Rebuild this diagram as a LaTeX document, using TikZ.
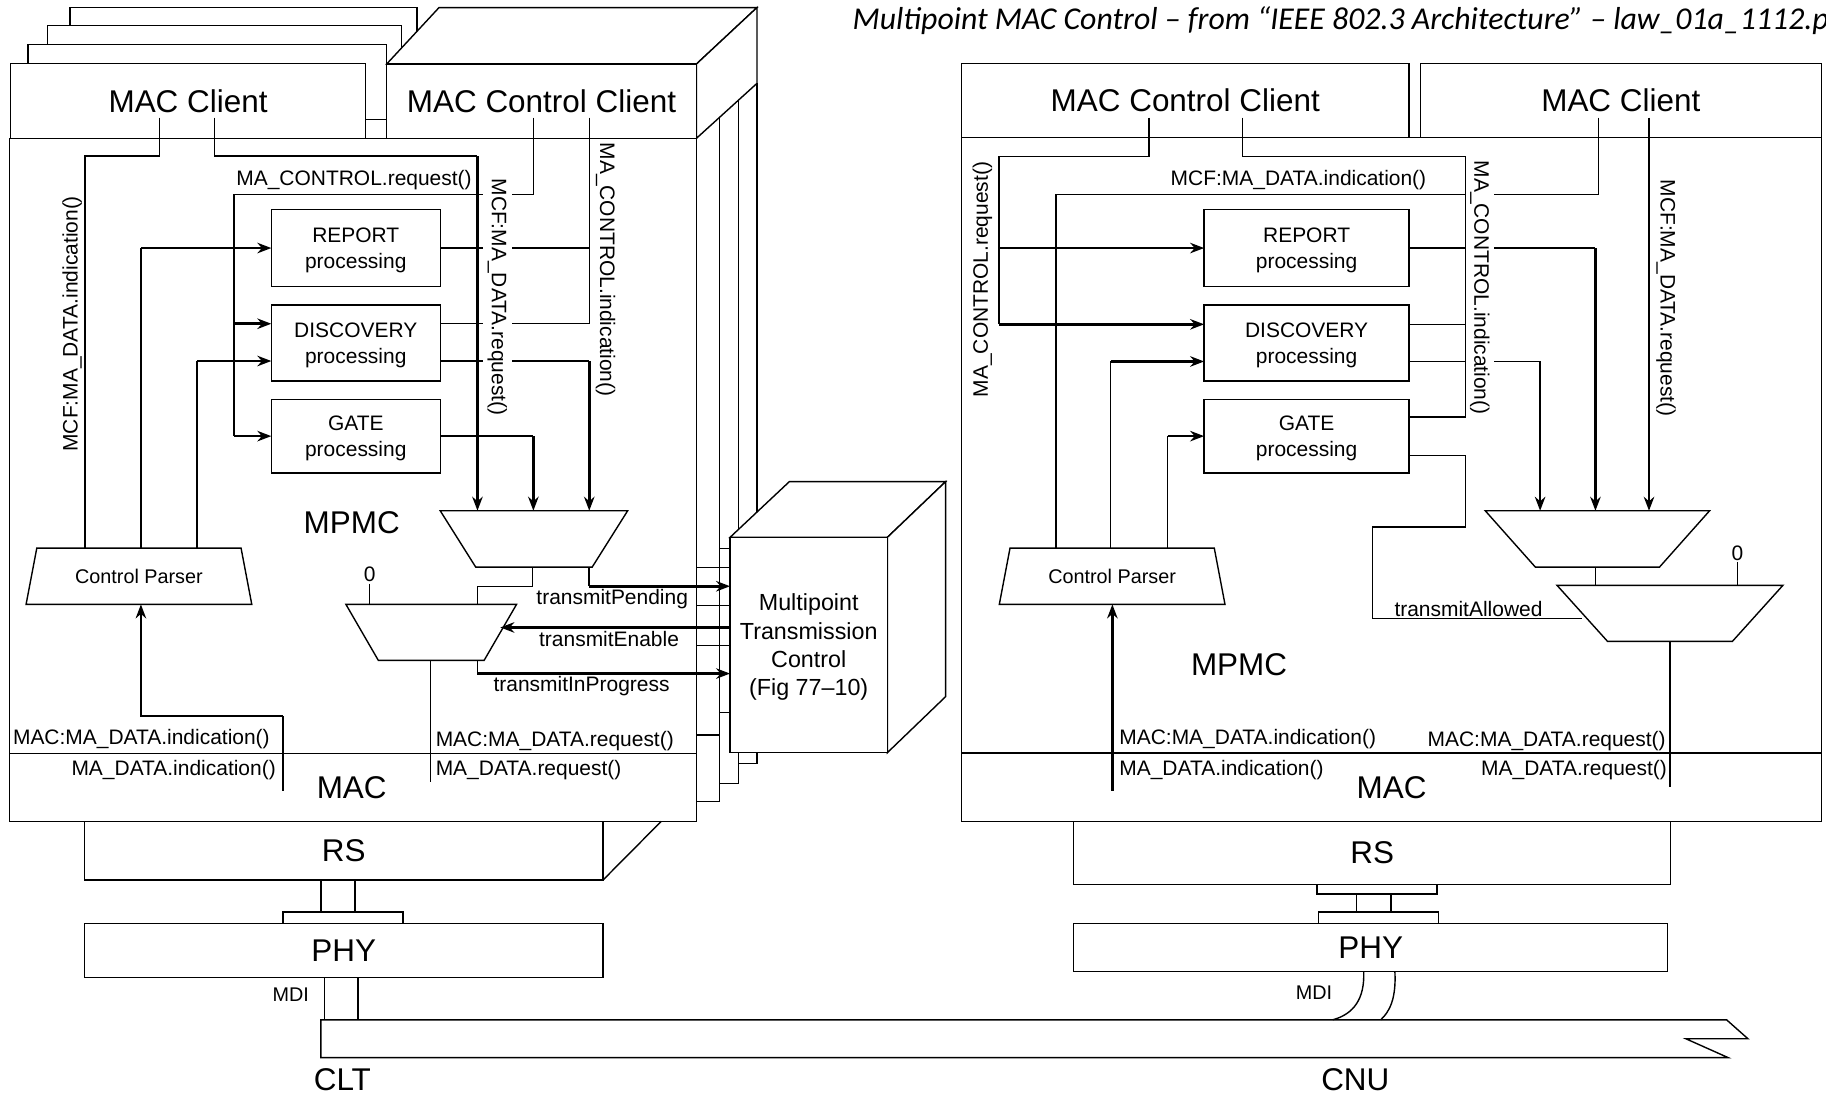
\documentclass[tikz,border=0pt]{standalone}
\usepackage{fontspec}
\setmainfont{Liberation Sans}
\newfontfamily\capfont{Carlito}
\usetikzlibrary{positioning}
\usetikzlibrary{arrows.meta}
\usetikzlibrary{shapes.geometric}
\usetikzlibrary{fit}
\tikzset{
  box/.style={draw=black, fill=white, line width=1.2pt, inner sep=0pt, outer sep=0pt},
  big/.style={font=\fontsize{27}{30}\selectfont},
  lbl/.style={font=\fontsize{18}{20}\selectfont, inner sep=1pt},
  proc/.style={align=center, font=\fontsize{18}{22}\selectfont},
  wire/.style={line width=1.2pt},
  sig/.style={line width=2.2pt, -{Stealth[length=12pt, width=9pt]}},
  mux/.style={draw=black, fill=white, line width=1.2pt, trapezium, trapezium stretches=true, inner sep=1pt, outer sep=0pt},
  parser/.style={mux, trapezium angle=68, minimum width=194pt, minimum height=48.3pt, font=\fontsize{17}{20}\selectfont},
}

\begin{document}
\begin{tikzpicture}[x=1pt, y=-1pt]
    \useasboundingbox (0,0) rectangle (1568,939.4);

    \node[anchor=west, inner sep=0pt, font=\capfont\itshape\fontsize{27.3}{30}\selectfont] (caption) at (732,18) {Multipoint MAC Control – from “IEEE 802.3 Architecture” – law\_01a\_1112.p};

    % CLT: stacked clients
    \node[box, fit={(60,6.3) (358,71)}] (cb_1) {};
    \node[box, fit={(41,22) (345,87)}] (cb_2) {};
    \node[box, fit={(24,38) (332,102.7)}] (cb_3) {};
    \node[box, fit={(9,54.5) (314,118.8)}] (macc_L) {};
    \node[big] at (macc_L) {MAC Client};

    \draw[wire] (617.7,100.7) -- (617.7,688.4) -- (598,688.4);
    \draw[wire] (634,85.9) -- (634,672.6) -- (617.7,672.6);
    \draw[wire] (650,71.6) -- (650,655.5) -- (634,655.5);
    \draw[box] (332,55) -- (377,6.5) -- (650,6.5) -- (598,55) -- cycle;
    \draw[box] (598,55) -- (650,6.5) -- (650,71.6) -- (598,118.8) -- cycle;
    \node[box, fit={(332,55) (598,118.8)}] (mcc_L) {};
    \node[big] at (mcc_L) {MAC Control Client};

    \node[box, fit={(8,118.8) (598,705.3)}] (mpmc_L) {};
    \draw[wire] (mpmc_L.west |- 0,647) -- (mpmc_L.east |- 0,647);

    \draw[wire] (617.7,470.9) -- (626.9,470.9);
    \draw[wire] (598,487.2) -- (626.9,487.2);
    \draw[wire] (598,520.1) -- (626.9,520.1);
    \draw[wire] (598,554.4) -- (626.9,554.4);
    \draw[wire] (617.7,612) -- (626.9,612);
    \draw[wire] (598,631) -- (617.7,631);

    \draw[box] (626.9,461.4) -- (677.8,413.6) -- (812,413.6) -- (762,461.4) -- cycle;
    \draw[box] (762,461.4) -- (812,413.6) -- (812,598.2) -- (762,646.3) -- cycle;
    \node[box, fit={(626.9,461.4) (762,646.3)}] (mtc) {};
    \node[align=center, font=\fontsize{20}{24.4}\selectfont] at ([yshift=-2pt]mtc.center) {Multipoint\\Transmission\\Control\\(Fig 77–10)};

    \node[box, fit={(233,180) (378,246)}] (rep_L) {};
    \node[box, fit={(233,262) (378,327)}] (dis_L) {};
    \node[box, fit={(233,343) (378,406)}] (gate_L) {};
    \node[proc] at ([yshift=-2pt]rep_L.center) {REPORT\\processing};
    \node[proc] at ([yshift=-2pt]dis_L.center) {DISCOVERY\\processing};
    \node[proc] at ([yshift=-2pt]gate_L.center) {GATE\\processing};

    \node[mux, shape border rotate=180, trapezium angle=73, minimum width=161pt, minimum height=48.5pt] (muxa_L) at (458.5,462.8) {};
    \node[mux, shape border rotate=180, trapezium angle=73, minimum width=146.5pt, minimum height=48pt] (muxb_L) at (370.3,543) {};
    \node[parser] (cp_L) at (119.3,494.85) {Control Parser};

    \coordinate (ind_L) at (137,101);
    \coordinate (req_L) at (184,101);
    \coordinate (creq_L) at (458,101);
    \coordinate (cind_L) at (506,101);

    % CLT wiring
    \draw[wire] (ind_L) |- (73,134) -- (73,0 |- cp_L.north);
    \draw[wire] (req_L) |- (410,134);
    \draw[sig] (410,134) -- (410,0 |- muxa_L.north);
    \draw[wire] (creq_L) |- (201,167) -- (201,0 |- gate_L.west);
    \draw[sig] (201,278) -- (dis_L.west |- 0,278);
    \draw[sig] (201,0 |- gate_L.west) -- (gate_L.west);
    \draw[wire] (121,0 |- cp_L.north) -- (121,0 |- rep_L.west);
    \draw[sig] (121,0 |- rep_L.west) -- (rep_L.west);
    \draw[wire] (169,0 |- cp_L.north) -- (169,310);
    \draw[sig] (169,310) -- (dis_L.west |- 0,310);
    \draw[wire] (cind_L) -- (506,278);
    \draw[wire] (rep_L.east) -- (506,0 |- rep_L.east);
    \draw[wire] (dis_L.east |- 0,278) -- (506,278);
    \draw[wire] (dis_L.east |- 0,310) -- (506,310);
    \draw[sig] (506,310) -- (506,0 |- muxa_L.north);
    \draw[wire] (gate_L.east) -- (458,0 |- gate_L.east);
    \draw[sig] (458,0 |- gate_L.east) -- (458,0 |- muxa_L.north);

    \node[lbl] at (304,155) {MA\_CONTROL.request()};
    \node[lbl, rotate=-90, fill=white, inner sep=4pt] at (427,255) {MCF:MA\_DATA.request()};
    \node[lbl, rotate=-90] at (520,231.5) {MA\_CONTROL.indication()};
    \node[lbl, rotate=90] at (62,278) {MCF:MA\_DATA.indication()};

    \draw[wire] (457,0 |- muxa_L.south) |- (410,503.6) -- (410,0 |- muxb_L.north);
    \draw[wire] (505.7,0 |- muxa_L.south) -- (505.7,503.4);
    \draw[sig] (505.7,503.4) -- (mtc.west |- 0,503.4);
    \node[lbl] at (525.7,514.6) {transmitPending};
    \draw[sig] (mtc.west |- 0,538.8) -- (muxb_L.east |- 0,538.8);
    \node[lbl] at (523,549) {transmitEnable};
    \draw[wire] (410,0 |- muxb_L.south) -- (410,578.4);
    \draw[sig] (410,578.4) -- (mtc.west |- 0,578.4);
    \node[lbl] at (499.4,588.8) {transmitInProgress};
    \node[lbl] (zero_L) at (317.5,493.5) {0};
    \draw[wire] (zero_L.south) -- (317.5,0 |- muxb_L.north);

    \draw[wire] (369.6,0 |- muxb_L.south) -- (369.6,671.7);
    \node[lbl, anchor=west] at (373,636) {MAC:MA\_DATA.request()};
    \node[lbl, anchor=west] at (373,661) {MA\_DATA.request()};
    \draw[wire] (242.9,679) -- (242.9,614.8);
    \draw[sig] (242.9,614.8) -| (121,0 |- cp_L.south);
    \node[lbl, anchor=west] at (10,635) {MAC:MA\_DATA.indication()};
    \node[lbl, anchor=east] at (238,661.6) {MA\_DATA.indication()};
    \node[big] at (302,449) {MPMC};
    \node[big] at (302,676.6) {MAC};

    % CLT: RS, PHY
    \node[box, fit={(72.5,705.3) (517.8,755.7)}] (rs_L) {};
    \node[big] at (rs_L) {RS};
    \draw[wire] (rs_L.south east) -- (567.8,705.3);
    \node[box, fit={(243,783.3) (346,793)}] (plug_L) {};
    \draw[wire] (275.5,0 |- rs_L.south) -- (275.5,0 |- plug_L.north);
    \draw[wire] (305,0 |- rs_L.south) -- (305,0 |- plug_L.north);
    \node[box, fit={(72.5,793) (517.8,839.3)}] (phy_L) {};
    \node[big] at (phy_L) {PHY};

    % cable
    \draw[box] (275.5,875.7) coordinate (cable) -- (1482.6,875.7) -- (1501,892) -- (1447.7,892) -- (1484,908.2) -- (275.5,908.2) -- cycle;
    \draw[wire] (278.6,0 |- phy_L.south) -- (278.6,0 |- cable);
    \draw[wire] (307.5,0 |- phy_L.south) -- (307.5,0 |- cable);
    \node[lbl, font=\fontsize{17}{20}\selectfont] at (249.7,854) {MDI};
    \node[big] at (294,927) {CLT};
    \node[big] at (1163.8,927) {CNU};

    % CNU
    \node[box, fit={(825.6,54.3) (1210,118)}] (mcc_R) {};
    \node[box, fit={(1219.6,54.3) (1564,118)}] (macc_R) {};
    \node[big] at (mcc_R) {MAC Control Client};
    \node[big] at (macc_R) {MAC Client};
    \node[box, fit={(825.6,118) (1564,705.3)}] (mpmc_R) {};
    \draw[wire] (mpmc_R.west |- 0,646.7) -- (mpmc_R.east |- 0,646.7);

    \node[box, fit={(1034,180) (1210,246)}] (rep_R) {};
    \node[box, fit={(1034,262) (1210,327)}] (dis_R) {};
    \node[box, fit={(1034,343) (1210,406)}] (gate_R) {};
    \node[proc] at ([yshift=-2pt]rep_R.center) {REPORT\\processing};
    \node[proc] at ([yshift=-2pt]dis_R.center) {DISCOVERY\\processing};
    \node[proc] at ([yshift=-2pt]gate_R.center) {GATE\\processing};

    \node[mux, shape border rotate=180, trapezium angle=68, minimum width=192.6pt, minimum height=48.4pt] (muxa_R) at (1371.7,462.8) {};
    \node[mux, shape border rotate=180, trapezium angle=68, minimum width=194pt, minimum height=48.1pt] (muxb_R) at (1434,526.65) {};
    \node[parser] (cp_R) at (955,494.85) {Control Parser};

    \coordinate (creq_R) at (986.7,101);
    \coordinate (cind_R) at (1066.8,101);
    \coordinate (ind_R) at (1372.5,101);
    \coordinate (req_R) at (1416,101);

    % CNU wiring
    \draw[wire] (creq_R) |- (858,134.3) -- (858,278.5);
    \draw[sig] (858,0 |- rep_R.west) -- (rep_R.west);
    \draw[sig] (858,278.5) -- (dis_R.west |- 0,278.5);
    \draw[wire] (ind_R) |- (906.7,167) -- (906.7,0 |- cp_R.north);
    \draw[wire] (rep_R.east) -- (1370,0 |- rep_R.east);
    \draw[sig] (1370,0 |- rep_R.east) -- (1370,0 |- muxa_R.north);
    \draw[wire] (dis_R.east |- 0,310.4) -- (1322.5,310.4);
    \draw[sig] (1322.5,310.4) -- (1322.5,0 |- muxa_R.north);
    \node[lbl, rotate=-90, fill=white, inner sep=4pt] at (1270.6,247) {MA\_CONTROL.indication()};
    \draw[wire] (cind_R) |- (1258.4,134.3) |- (gate_R.east |- 0,358.2);
    \draw[wire] (dis_R.east |- 0,278.5) -- (1258.4,278.5);
    \draw[sig] (req_R) -- (1416,0 |- muxa_R.north);
    \draw[wire] (953.7,0 |- cp_R.north) -- (953.7,310.4);
    \draw[sig] (953.7,310.4) -- (dis_R.west |- 0,310.4);
    \draw[wire] (1002.7,0 |- cp_R.north) -- (1002.7,0 |- gate_R.west);
    \draw[sig] (1002.7,0 |- gate_R.west) -- (gate_R.west);
    \draw[wire] (gate_R.east |- 0,391) -| (1258.4,452.4) -| (1178.4,531) -- (muxb_R.west |- 0,531);

    \node[lbl, rotate=90] at (843.6,240) {MA\_CONTROL.request()};
    \node[lbl, rotate=-90] at (1430.7,256) {MCF:MA\_DATA.request()};
    \node[lbl] at (1115,155) {MCF:MA\_DATA.indication()};
    \node[lbl] at (1261,523) {transmitAllowed};

    \draw[wire] (1370,0 |- muxa_R.south) -- (1370,0 |- muxb_R.north);
    \node[lbl] (zero_R) at (1492,475) {0};
    \draw[wire] (zero_R.south) -- (1492,0 |- muxb_R.north);
    \draw[wire] (1434,0 |- muxb_R.south) -- (1434,675.7);
    \draw[sig] (955.2,679) -- (955.2,0 |- cp_R.south);

    \node[lbl, anchor=west] at (960,635) {MAC:MA\_DATA.indication()};
    \node[lbl, anchor=west] at (960,661.6) {MA\_DATA.indication()};
    \node[lbl, anchor=east] at (1431.5,636) {MAC:MA\_DATA.request()};
    \node[lbl, anchor=east] at (1432.5,661) {MA\_DATA.request()};
    \node[big] at (1064,571) {MPMC};
    \node[big] at (1195,676.6) {MAC};

    % CNU: RS, PHY
    \node[box, fit={(922,705.3) (1434.6,759.6)}] (rs_R) {};
    \node[big] at (rs_R) {RS};
    \node[box, fit={(1130.8,759.6) (1234,767.7)}] (plugt_R) {};
    \node[box, fit={(1132,783.3) (1235,793)}] (plugb_R) {};
    \draw[wire] (1165,0 |- plugt_R.south) -- (1165,0 |- plugb_R.north);
    \draw[wire] (1194.4,0 |- plugt_R.south) -- (1194.4,0 |- plugb_R.north);
    \node[box, fit={(922,793) (1432,834.4)}] (phy_R) {};
    \node[big] at (phy_R) {PHY};
    \draw[wire] (1171,0 |- phy_R.south) .. controls (1172,858) and (1162,871) .. (1144.4,0 |- cable);
    \draw[wire] (1197.8,0 |- phy_R.south) .. controls (1199,858) and (1193,869) .. (1185.6,0 |- cable);
    \node[lbl, font=\fontsize{17}{20}\selectfont] at (1128.4,852.3) {MDI};
\end{tikzpicture}
\end{document}
